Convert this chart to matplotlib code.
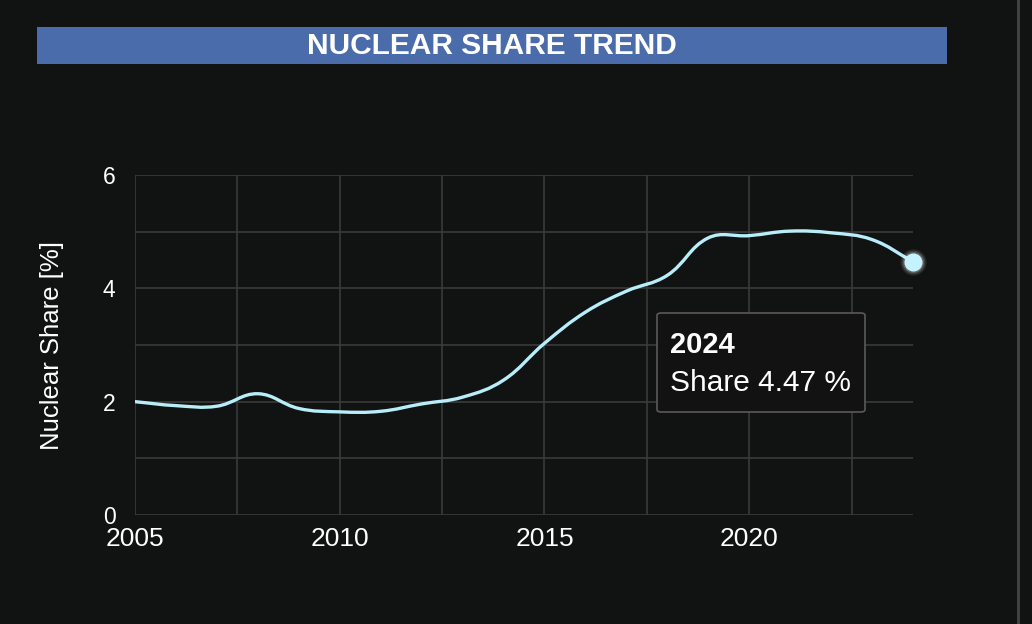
import numpy as np
import matplotlib
matplotlib.use("Agg")
import matplotlib.pyplot as plt
from matplotlib.path import Path
from matplotlib.patches import PathPatch, FancyBboxPatch, Rectangle
from matplotlib.lines import Line2D

plt.rcParams['font.family'] = ['Liberation Sans', 'DejaVu Sans']

# data
years = [2005, 2006, 2007, 2008, 2009, 2010, 2011, 2012, 2013, 2014,
         2015, 2016, 2017, 2018, 2019, 2020, 2021, 2022, 2023, 2024]
share = [2.00, 1.93, 1.92, 2.14, 1.88, 1.82, 1.83, 1.96, 2.08, 2.38,
         3.03, 3.58, 3.95, 4.23, 4.89, 4.93, 5.01, 4.98, 4.86, 4.47]
x_ticks = [2005, 2010, 2015, 2020]
y_ticks = [0, 2, 4, 6]

BG = '#111212'
GRID = '#3a3a3a'
LINE = '#b8eefa'

W, H = 1032, 624
fig = plt.figure(figsize=(W / 100, H / 100), dpi=100, facecolor=BG)

L, R, T, B = 135, 913, 175, 515
ax = fig.add_axes([L / W, 1 - B / H, (R - L) / W, (B - T) / H])
ax.set_facecolor(BG)
ax.set_xlim(2005, 2024)
ax.set_ylim(0, 6)

# grid every 2.5 years / 1 unit
for gx in np.arange(2005, 2024.1, 2.5):
    ax.axvline(gx, color=GRID, lw=1.2, zorder=1)
for gy in range(0, 7):
    ax.axhline(gy, color=GRID, lw=1.2, zorder=1)
for s in ax.spines.values():
    s.set_visible(False)

ax.set_xticks(x_ticks)
ax.set_yticks(y_ticks)
ax.tick_params(length=0, colors='white')
ax.tick_params(axis='x', labelsize=19, pad=9)
ax.tick_params(axis='y', labelsize=16.5, pad=14)
ax.set_ylabel('Nuclear Share [%]', color='white', fontsize=18.5, labelpad=28)


# chart.js style spline (tension 0.4), computed in pixel scale
def spline_path(xs, ys, t=0.4):
    sx = (R - L) / 19.0
    sy = (B - T) / 6.0
    px = np.array(xs, float) * sx
    py = np.array(ys, float) * sy
    n = len(px)
    c_prev = [None] * n
    c_next = [None] * n
    for i in range(n):
        p0 = (px[max(i - 1, 0)], py[max(i - 1, 0)])
        p1 = (px[i], py[i])
        p2 = (px[min(i + 1, n - 1)], py[min(i + 1, n - 1)])
        d01 = np.hypot(p1[0] - p0[0], p1[1] - p0[1])
        d12 = np.hypot(p2[0] - p1[0], p2[1] - p1[1])
        tot = d01 + d12 if d01 + d12 else 1
        fa = t * d01 / tot
        fb = t * d12 / tot
        c_prev[i] = (p1[0] - fa * (p2[0] - p0[0]), p1[1] - fa * (p2[1] - p0[1]))
        c_next[i] = (p1[0] + fb * (p2[0] - p0[0]), p1[1] + fb * (p2[1] - p0[1]))
    verts = [(px[0], py[0])]
    codes = [Path.MOVETO]
    for i in range(1, n):
        verts += [c_next[i - 1], c_prev[i], (px[i], py[i])]
        codes += [Path.CURVE4] * 3
    verts = [(vx / sx, vy / sy) for vx, vy in verts]
    return Path(verts, codes)


ax.add_patch(PathPatch(spline_path(years, share), fill=False, edgecolor=LINE,
                       lw=2.4, zorder=3, capstyle='round'))

# hovered point with soft glow
for ms, a in [(19, 0.08), (17, 0.12), (15, 0.2)]:
    ax.plot(years[-1], share[-1], 'o', ms=ms, mfc='white', mec='none', alpha=a,
            zorder=4, clip_on=False)
ax.plot(years[-1], share[-1], 'o', ms=13, mfc='#c4f2ff', mec='none',
        zorder=5, clip_on=False)

# tooltip
tip = FancyBboxPatch((657 / W, 1 - 412 / H), 208 / W, 99 / H,
                     boxstyle='round,pad=0,rounding_size=0.004',
                     transform=fig.transFigure, facecolor='#121212',
                     edgecolor='#5a5a5a', lw=1.2, zorder=10)
fig.patches.append(tip)
fig.text(670 / W, 1 - 345 / H, str(years[-1]), color='white', fontsize=21,
         fontweight='bold', va='center', ha='left', zorder=11)
fig.text(670 / W, 1 - 383 / H, f'Share {share[-1]:.2f} %', color='white',
         fontsize=21.5, va='center', ha='left', zorder=11)

# title bar
fig.patches.append(Rectangle((37 / W, 1 - 64 / H), 910 / W, 37 / H,
                             transform=fig.transFigure, facecolor='#4b6caa',
                             edgecolor='none'))
fig.text(492 / W, 1 - 45.5 / H, 'NUCLEAR SHARE TREND', color='white',
         fontsize=21.5, fontweight='bold', ha='center', va='center')

# right-side divider
fig.add_artist(Line2D([1017.5 / W] * 2, [0, 1], color='#444444', lw=2,
                      transform=fig.transFigure))

fig.savefig('out.png', dpi=100, facecolor=BG)
